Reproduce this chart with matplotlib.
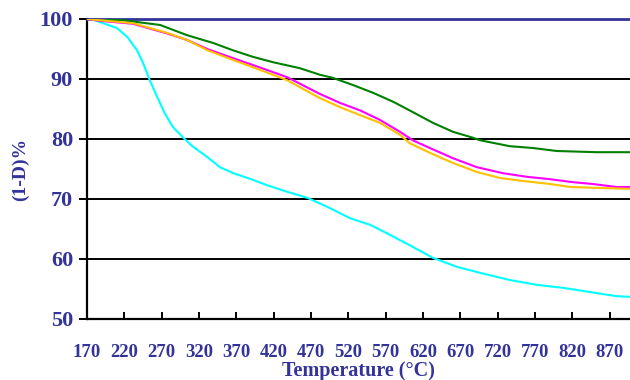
import matplotlib.pyplot as plt

# curves: temperature (°C) and (1-D)%
t_cyan = [170, 177, 187, 210, 224, 237, 245, 254, 264, 274, 285, 299, 312, 331, 348, 366,
          392, 411, 438, 465, 495, 522, 549, 576, 602, 633, 665, 696, 736, 772, 807, 843, 879, 897]
v_cyan = [100, 99.9, 99.5, 98.5, 97.0, 94.8, 92.7, 89.8, 87.0, 84.3, 82.0, 80.2, 78.7, 77.0, 75.3, 74.3,
          73.2, 72.3, 71.2, 70.2, 68.5, 66.8, 65.7, 64.0, 62.3, 60.2, 58.7, 57.7, 56.5, 55.7, 55.2, 54.5, 53.8, 53.7]

t_green = [170, 218, 268, 304, 339, 365, 392, 419, 455, 482, 499, 526, 553, 580, 606, 633, 660, 687,
           696, 736, 767, 799, 853, 897]
v_green = [100, 99.8, 99.0, 97.3, 96.0, 94.8, 93.7, 92.8, 91.8, 90.7, 90.2, 89.0, 87.7, 86.2, 84.5, 82.7, 81.2, 80.2,
           79.8, 78.8, 78.5, 78.0, 77.8, 77.8]

t_magenta = [170, 187, 232, 254, 277, 304, 331, 365, 402, 438, 482, 509, 535, 562, 589, 606, 629, 660,
             692, 727, 759, 790, 821, 847, 879, 897]
v_magenta = [100, 99.7, 99.2, 98.4, 97.6, 96.5, 95.0, 93.5, 91.9, 90.3, 87.5, 86.0, 84.8, 83.2, 81.2, 79.8, 78.5, 76.8,
             75.3, 74.3, 73.7, 73.3, 72.8, 72.5, 72.0, 72.0]

t_orange = [170, 187, 232, 254, 277, 304, 331, 365, 402, 438, 482, 509, 535, 562, 589, 602, 629, 660,
            692, 723, 754, 790, 817, 866, 897]
v_orange = [100, 99.8, 99.3, 98.5, 97.7, 96.5, 94.8, 93.2, 91.5, 89.8, 86.8, 85.3, 84.0, 82.7, 80.7, 79.3, 77.7, 76.0,
            74.5, 73.5, 73.0, 72.5, 72.0, 71.8, 71.7]

x_ticks = list(range(170, 871, 50))
y_ticks = [50, 60, 70, 80, 90, 100]

navy = '#333399'
font = ['Liberation Serif', 'DejaVu Serif']

fig = plt.figure(figsize=(6.3, 3.8), dpi=100)
ax = fig.add_axes([87 / 630, 61 / 380, 543 / 630, 300 / 380])

ax.plot(t_cyan, v_cyan, color='#00FFFF', lw=1.5, zorder=3)
ax.plot(t_green, v_green, color='#008000', lw=1.5, zorder=3)
ax.plot(t_magenta, v_magenta, color='#FF00FF', lw=1.5, zorder=3)
ax.plot(t_orange, v_orange, color='#FFC000', lw=1.5, zorder=3)

for y in y_ticks[1:-1]:
    ax.axhline(y, color='black', lw=1.4, zorder=1)

ax.set_xlim(170, 897)
ax.set_ylim(50, 100)
ax.set_xticks(x_ticks)
ax.set_yticks(y_ticks)

ax.spines['right'].set_visible(False)
ax.spines['top'].set_color(navy)
ax.spines['top'].set_linewidth(2)
ax.spines['left'].set_linewidth(1.6)
ax.spines['bottom'].set_linewidth(1.6)

ax.tick_params(axis='x', direction='in', length=5, width=1.4, pad=18)
ax.tick_params(axis='y', direction='out', length=6, width=1.4, pad=4)

for lab in ax.get_xticklabels():
    lab.set_fontfamily(font)
    lab.set_fontweight('bold')
    lab.set_fontsize(13.5)
    lab.set_color(navy)
for lab in ax.get_yticklabels():
    lab.set_fontfamily(font)
    lab.set_fontweight('bold')
    lab.set_fontsize(16)
    lab.set_color(navy)

ax.set_xlabel('Temperature (°C)', family=font, fontweight='bold', fontsize=14.5,
              color=navy, labelpad=0)
ax.set_ylabel('(1-D)%', family=font, fontweight='bold', fontsize=14,
              color=navy, labelpad=8)

fig.savefig('out.png', dpi=100)
